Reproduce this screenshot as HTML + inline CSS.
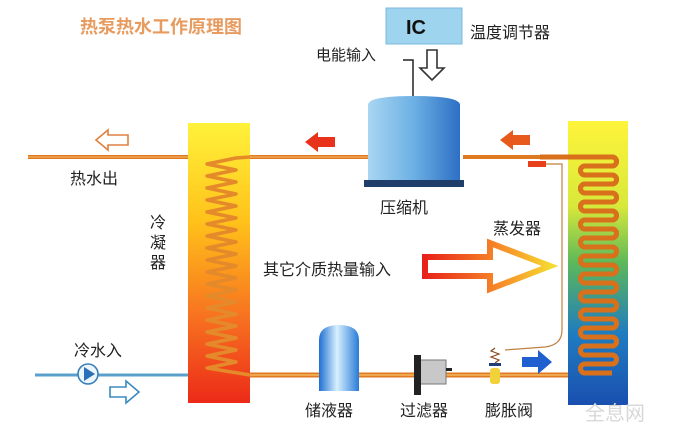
<!DOCTYPE html>
<html><head><meta charset="utf-8"><style>
html,body{margin:0;padding:0;background:#fff;}
svg{display:block;}
text{font-family:"Liberation Sans","Noto Sans CJK SC",sans-serif;}
</style></head><body>
<svg width="674" height="432" viewBox="0 0 674 432" xmlns="http://www.w3.org/2000/svg">
<defs>
<linearGradient id="cond" x1="0" y1="0" x2="0" y2="1">
<stop offset="0" stop-color="#fff23a"/><stop offset="0.35" stop-color="#ffc21a"/><stop offset="0.7" stop-color="#f77020"/><stop offset="1" stop-color="#ec2a18"/></linearGradient>
<linearGradient id="evap" x1="0" y1="0" x2="0" y2="1">
<stop offset="0" stop-color="#fff43a"/><stop offset="0.3" stop-color="#d7e83a"/><stop offset="0.5" stop-color="#5cb85a"/><stop offset="0.75" stop-color="#1f7cc0"/><stop offset="1" stop-color="#1a4fb0"/></linearGradient>
<linearGradient id="comp" x1="0" y1="0" x2="1" y2="0">
<stop offset="0" stop-color="#a9d6f2"/><stop offset="0.5" stop-color="#6cb0e4"/><stop offset="1" stop-color="#2d6fc4"/></linearGradient>
<linearGradient id="tank" x1="0" y1="0" x2="1" y2="0">
<stop offset="0" stop-color="#1f6fd0"/><stop offset="0.45" stop-color="#d8f0ff"/><stop offset="1" stop-color="#2a7bd8"/></linearGradient>
<linearGradient id="big" x1="0" y1="0" x2="1" y2="0">
<stop offset="0" stop-color="#e8221a"/><stop offset="0.6" stop-color="#f78b28"/><stop offset="1" stop-color="#f5d830"/></linearGradient>
</defs>

<text x="80" y="33" font-size="18" font-weight="bold" fill="#e89b5e">热泵热水工作原理图</text>

<!-- IC -->
<rect x="386" y="8" width="76" height="36" fill="#9fd4ef" stroke="#7bb8dc"/>
<text x="406" y="34" font-size="20" font-weight="bold" font-family="Liberation Serif,serif" fill="#111">IC</text>
<text x="470" y="38" font-size="16" fill="#222">温度调节器</text>
<text x="316" y="60" font-size="15" fill="#222">电能输入</text>
<polyline points="403,60 413,60 413,98" fill="none" stroke="#222" stroke-width="1.5"/>
<path d="M427 50 H437 V68 H444 L432 80 L420 68 H427 Z" fill="#fff" stroke="#333" stroke-width="1.6"/>

<!-- pipes -->
<line x1="28" y1="157" x2="368" y2="157" stroke="#e07a22" stroke-width="4"/>
<line x1="28" y1="157" x2="368" y2="157" stroke="#f4b060" stroke-width="1.2"/>
<line x1="463" y1="157" x2="580" y2="157" stroke="#e07a22" stroke-width="4"/>
<line x1="250" y1="375" x2="585" y2="375" stroke="#e07a22" stroke-width="5"/>
<line x1="250" y1="375" x2="585" y2="375" stroke="#f6b860" stroke-width="1.5"/>
<line x1="35" y1="375" x2="190" y2="375" stroke="#5aa0cc" stroke-width="3"/>

<!-- condenser -->
<rect x="188" y="123" width="62" height="280" fill="url(#cond)"/>
<polyline points="250,157 236,158 207,164 236,170 207,176 236,182 207,188 236,194 207,200 236,206 207,212 236,218 207,224 236,230 207,236 236,242 207,248 236,254 207,260 236,266 207,272 236,278 207,284 236,290 207,296 236,302 207,308 236,314 207,320 236,326 207,332 236,338 207,344 236,350 207,356 236,362 207,368 250,375" fill="none" stroke="#e58a2a" stroke-width="3.5" stroke-linejoin="round"/>

<!-- evaporator -->
<rect x="568" y="121" width="60" height="284" fill="url(#evap)"/>
<g fill="none">
<path id="coil" d="M540 157 H612 A4.5 4.5 0 0 1 612 166 H585 A4.5 4.5 0 0 0 585 175 H612 A4.5 4.5 0 0 1 612 184 H585 A4.5 4.5 0 0 0 585 193 H612 A4.5 4.5 0 0 1 612 202 H585 A4.5 4.5 0 0 0 585 211 H612 A4.5 4.5 0 0 1 612 220 H585 A4.5 4.5 0 0 0 585 229 H612 A4.5 4.5 0 0 1 612 238 H585 A4.5 4.5 0 0 0 585 247 H612 A4.5 4.5 0 0 1 612 256 H585 A4.5 4.5 0 0 0 585 265 H612 A4.5 4.5 0 0 1 612 274 H585 A4.5 4.5 0 0 0 585 283 H612 A4.5 4.5 0 0 1 612 292 H585 A4.5 4.5 0 0 0 585 301 H612 A4.5 4.5 0 0 1 612 310 H585 A4.5 4.5 0 0 0 585 319 H612 A4.5 4.5 0 0 1 612 328 H585 A4.5 4.5 0 0 0 585 337 H612 A4.5 4.5 0 0 1 612 346 H585 A4.5 4.5 0 0 0 585 355 H612 A4.5 4.5 0 0 1 612 364 H585 A4.5 4.5 0 0 0 585 373 H 612" stroke="#d8701c" stroke-width="5"/>
<use href="#coil" stroke="#fac060" stroke-width="1.6"/>
</g>

<!-- sensor and capillary -->
<rect x="528" y="161" width="18" height="6" fill="#e8401a"/>
<path d="M546 164 H562 V330 Q562 345 545 347 L505 350" fill="none" stroke="#c08040" stroke-width="1.2"/>

<!-- compressor -->
<path d="M368 105 Q368 96 414 96 Q460 96 460 105 V180 H368 Z" fill="url(#comp)"/>
<rect x="364" y="180" width="100" height="7" fill="#1f3f6a"/>
<text x="380" y="213" font-size="16" fill="#222">压缩机</text>

<!-- red arrows -->
<path d="M305 142 L318 132 V137 H335 V147 H318 V152 Z" fill="#e8321c"/>
<path d="M500 140 L513 130 V135 H530 V145 H513 V150 Z" fill="#e85a1c"/>
<path d="M96 140 L108 130 V135 H128 V145 H108 V150 Z" fill="#fff" stroke="#e08040" stroke-width="1.6"/>
<text x="70" y="184" font-size="16" fill="#222">热水出</text>

<text x="150" y="228" font-size="16" fill="#222">冷</text>
<text x="150" y="248" font-size="16" fill="#222">凝</text>
<text x="150" y="268" font-size="16" fill="#222">器</text>

<text x="493" y="234" font-size="16" fill="#222">蒸发器</text>

<!-- big arrow -->
<path d="M425 257 H490 V243 L550 266 L490 289 V276 H425 Z" fill="#fff" stroke="url(#big)" stroke-width="6" stroke-linejoin="miter"/>
<text x="263" y="275" font-size="16" fill="#222">其它介质热量输入</text>

<!-- cold water -->
<text x="74" y="356" font-size="16" fill="#222">冷水入</text>
<circle cx="88" cy="374" r="10" fill="#eaf5fc" stroke="#3a7fb8" stroke-width="1.6"/>
<path d="M84 367 L95 374 L84 381 Z" fill="#2a6fb8"/>
<path d="M110 387 H126 V381 L139 392 L126 403 V397 H110 Z" fill="#fff" stroke="#3a8ac0" stroke-width="1.6"/>

<!-- receiver -->
<path d="M319 340 Q319 325 339 325 Q359 325 359 340 V391 H319 Z" fill="url(#tank)"/>
<text x="305" y="416" font-size="16" fill="#222">储液器</text>

<!-- filter -->
<rect x="420" y="360" width="26" height="24" fill="#c8c8c8" stroke="#777"/>
<rect x="414" y="355" width="7" height="40" fill="#222"/>
<rect x="446" y="368" width="6" height="3" fill="#222"/>
<text x="400" y="416" font-size="16" fill="#222">过滤器</text>

<!-- expansion valve -->
<path d="M495 348 l-4 3 l8 3 l-8 3 l8 3 l-4 3" fill="none" stroke="#8a4a20" stroke-width="1.2"/>
<rect x="489" y="363" width="12" height="3" fill="#1f3f7a"/>
<rect x="490" y="368" width="10" height="16" rx="3" fill="#f2d23a"/>
<text x="485" y="416" font-size="16" fill="#222">膨胀阀</text>

<!-- blue arrow -->
<path d="M522 357 H538 V350 L552 362 L538 374 V367 H522 Z" fill="#1f5fd0"/>

<!-- watermark -->
<text x="585" y="420" font-size="20" fill="#d8d8d8">全息网</text>
</svg>
</body></html>
